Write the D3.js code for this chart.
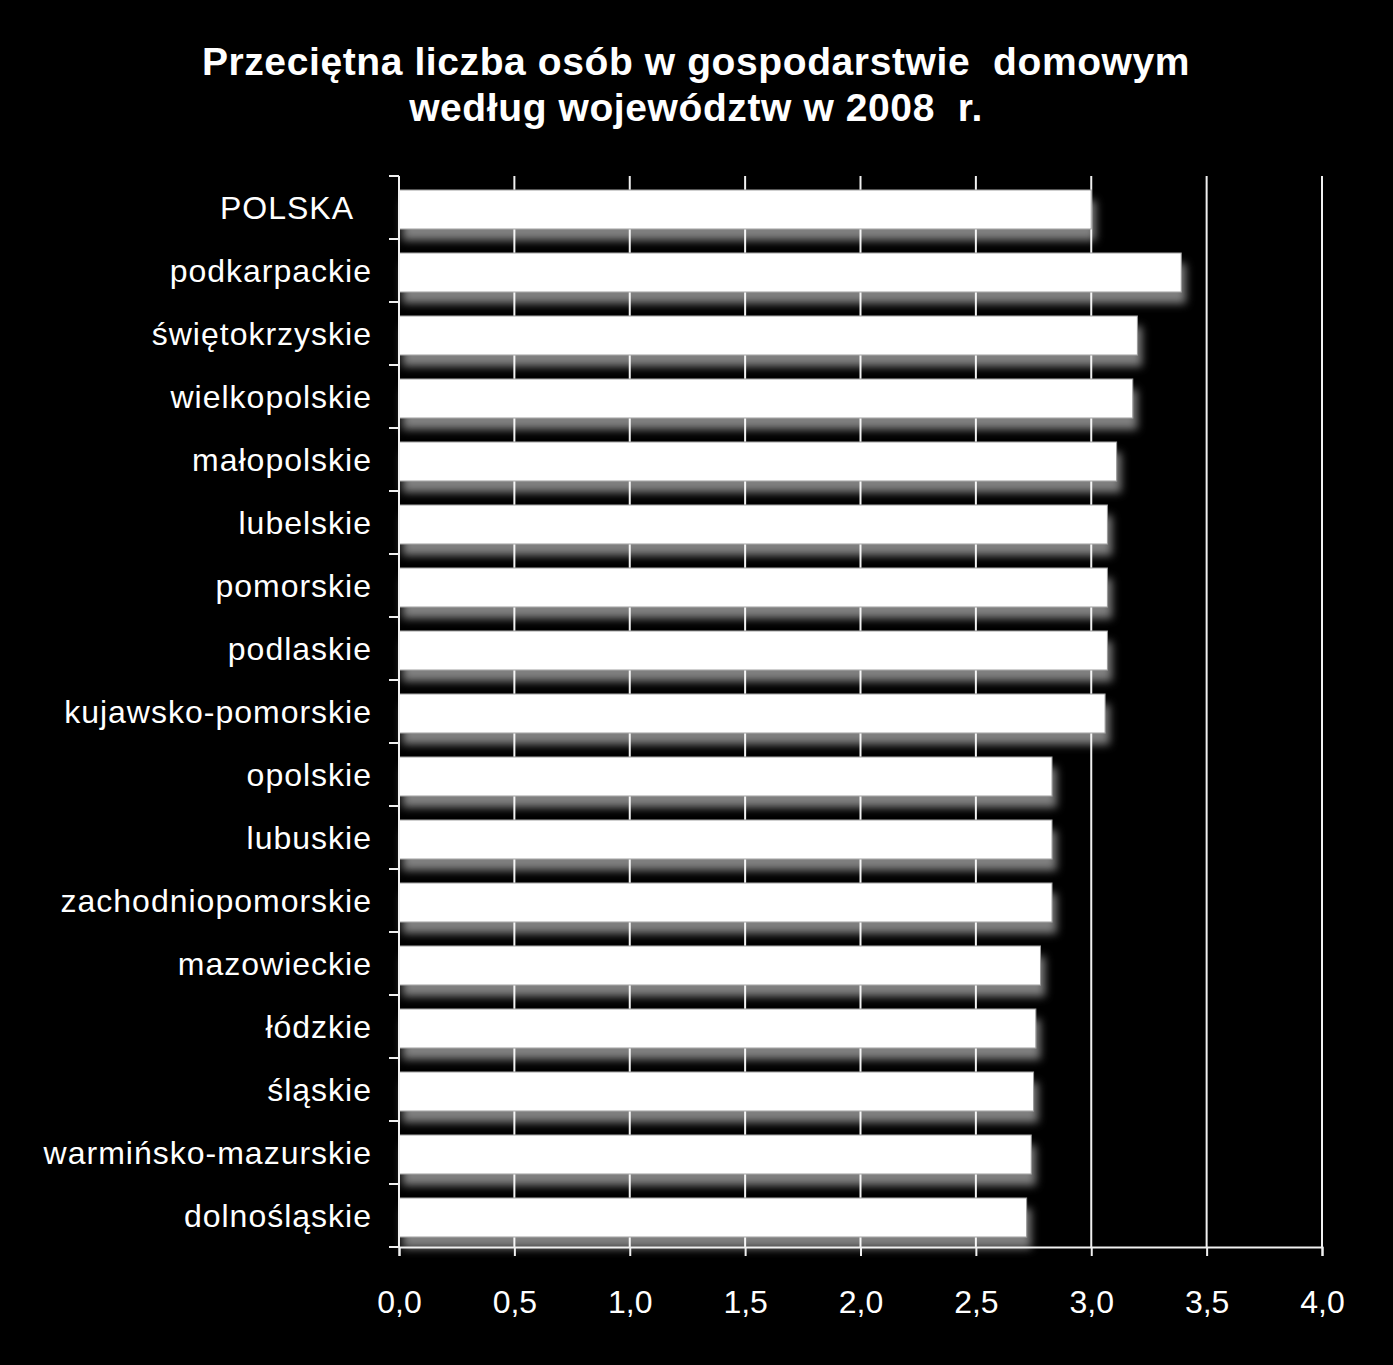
<!DOCTYPE html>
<html>
<head>
<meta charset="utf-8">
<script src="https://cdn.jsdelivr.net/npm/d3@7/dist/d3.min.js"></script>
<style>
  html, body { margin: 0; padding: 0; background: #000; }
  svg { display: block; }
  text { font-family: "Liberation Sans", Arial, sans-serif; fill: #fff; white-space: pre; }
</style>
</head>
<body>
<svg id="chart" width="1393" height="1365"></svg>
<script>
const categories = ["POLSKA  ", "podkarpackie", "świętokrzyskie", "wielkopolskie", "małopolskie",
  "lubelskie", "pomorskie", "podlaskie", "kujawsko-pomorskie", "opolskie", "lubuskie",
  "zachodniopomorskie", "mazowieckie", "łódzkie", "śląskie", "warmińsko-mazurskie", "dolnośląskie"];
const values = [3.00, 3.39, 3.20, 3.18, 3.11, 3.07, 3.07, 3.07, 3.06, 2.83, 2.83, 2.83, 2.78, 2.76, 2.75, 2.74, 2.72];
const xTicks = [0, 0.5, 1, 1.5, 2, 2.5, 3, 3.5, 4];
const titleLines = ["Przeciętna liczba osób w gospodarstwie  domowym", "według województw w 2008  r."];

(function () {
const W = 1393, H = 1365;
const pL = 399, pR = 1322, pT = 176, pB = 1247;

const svg = d3.select("#chart");
svg.append("rect").attr("width", W).attr("height", H).attr("fill", "#000");

const defs = svg.append("defs");
const f = defs.append("filter").attr("id", "shadow")
  .attr("x", "-5%").attr("y", "-50%").attr("width", "115%").attr("height", "250%");
f.append("feGaussianBlur").attr("in", "SourceAlpha").attr("stdDeviation", 4).attr("result", "blur");
f.append("feOffset").attr("in", "blur").attr("dx", 4).attr("dy", 11).attr("result", "off");
f.append("feFlood").attr("flood-color", "#ffffff").attr("flood-opacity", 0.5).attr("result", "col");
f.append("feComposite").attr("in", "col").attr("in2", "off").attr("operator", "in").attr("result", "sh");
const fm = f.append("feMerge");
fm.append("feMergeNode").attr("in", "sh");
fm.append("feMergeNode").attr("in", "SourceGraphic");

const x = d3.scaleLinear().domain([0, 4]).range([pL, pR]);
const y = d3.scaleBand().domain(categories).range([pT, pB]).paddingInner(0.38).paddingOuter(0.19);

// title
svg.append("g").selectAll("text").data(titleLines).join("text")
  .attr("x", 696).attr("y", (d, i) => 75 + i * 46)
  .attr("text-anchor", "middle")
  .style("font-size", "39px").style("font-weight", "bold")
  .style("letter-spacing", "0.6px")
  .text(d => d);

// gridlines
svg.append("g").selectAll("line").data(xTicks.filter(t => t > 0)).join("line")
  .attr("x1", d => x(d)).attr("x2", d => x(d))
  .attr("y1", pT).attr("y2", pB)
  .attr("stroke", "#f0f0f0").attr("stroke-width", 2);

// bars
svg.append("g").selectAll("rect").data(values).join("rect")
  .attr("x", x(0))
  .attr("y", (d, i) => y(categories[i]) + 2)
  .attr("width", d => x(d) - x(0))
  .attr("height", y.bandwidth())
  .attr("fill", "#fff")
  .attr("stroke", "#9a9a9a").attr("stroke-width", 1)
  .attr("filter", "url(#shadow)");

// x axis
const xAxis = svg.append("g").attr("transform", `translate(0,${pB})`)
  .call(d3.axisBottom(x).tickValues(xTicks).tickSize(9).tickPadding(34)
    .tickFormat(d => d3.format(".1f")(d).replace(".", ",")));
xAxis.select(".domain").attr("stroke", "#f0f0f0").attr("stroke-width", 2);
xAxis.selectAll(".tick line").attr("stroke", "#f0f0f0").attr("stroke-width", 2);
xAxis.selectAll("text").attr("fill", "#fff").style("font-size", "32px")
  .style("font-family", "'Liberation Sans', Arial, sans-serif");

// y axis
const yAxis = svg.append("g").attr("transform", `translate(${pL},0)`)
  .call(d3.axisLeft(y).tickSize(0).tickPadding(27));
yAxis.select(".domain").remove();
yAxis.selectAll("text").attr("fill", "#fff").style("font-size", "32px")
  .style("letter-spacing", "1px")
  .attr("dy", "0.36em")
  .style("font-family", "'Liberation Sans', Arial, sans-serif");

svg.append("line").attr("x1", pL).attr("x2", pL).attr("y1", pT).attr("y2", pB)
  .attr("stroke", "#f0f0f0").attr("stroke-width", 2);
const bounds = categories.map(c => y(c) - y.step() * y.paddingInner() / 2).concat([pB]);
bounds[0] = pT;
svg.append("g").selectAll("line").data(bounds).join("line")
  .attr("x1", pL - 10).attr("x2", pL)
  .attr("y1", d => d).attr("y2", d => d)
  .attr("stroke", "#f0f0f0").attr("stroke-width", 2);
})();
</script>
</body>
</html>
